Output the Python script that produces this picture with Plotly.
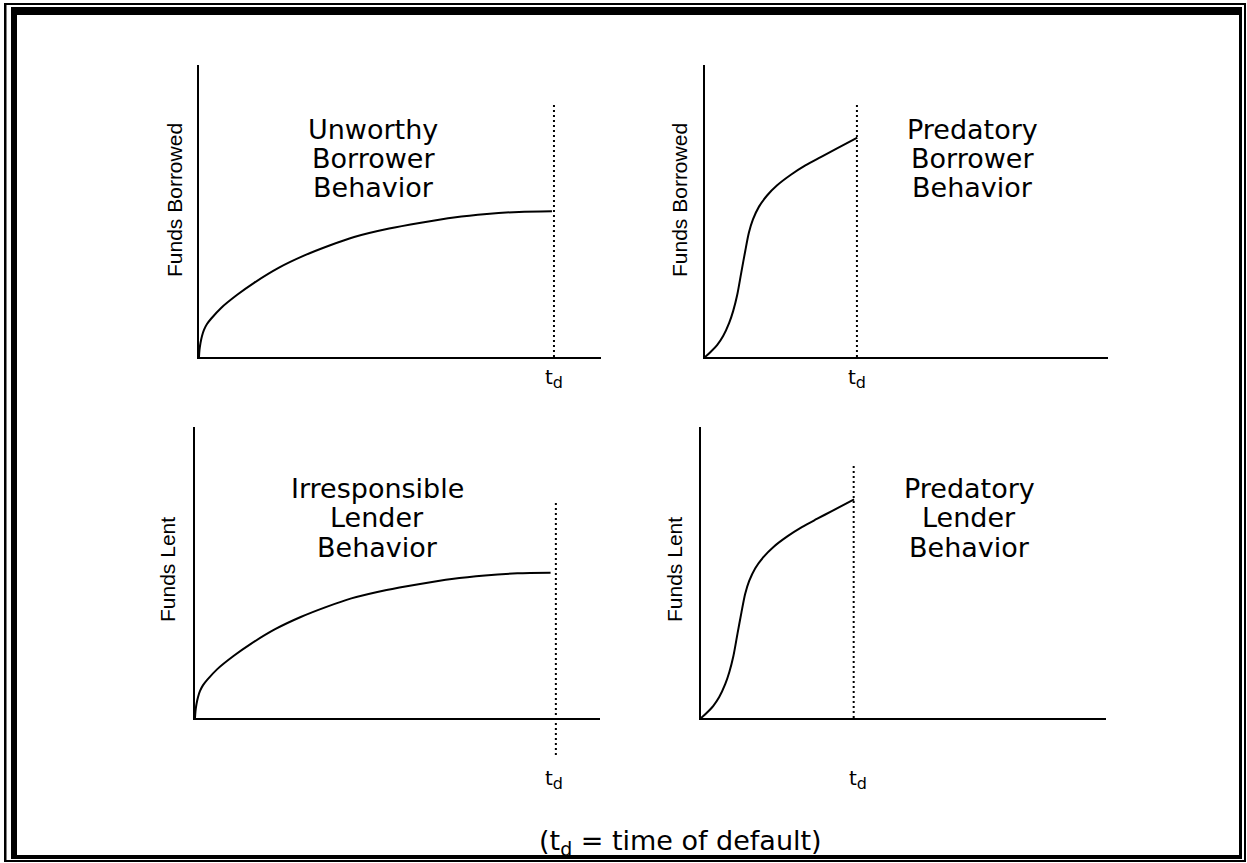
import plotly.graph_objects as go

# ---------------- data (arbitrary units: time axis 0..10, funds axis 0..10) ----------------
# concave "unworthy / irresponsible" growth path
unworthy_time = [0, 0.012, 0.037, 0.075, 0.124, 0.199, 0.30, 0.55, 0.95, 1.37, 1.99, 2.61, 3.23, 3.86,
                 4.73, 5.52, 6.34, 7.16, 7.96, 8.78]
unworthy_funds = [0, 0.24, 0.48, 0.72, 0.93, 1.13, 1.31, 1.68, 2.13, 2.54, 3.06, 3.47, 3.81, 4.11,
                  4.40, 4.60, 4.78, 4.90, 4.97, 4.99]
irresponsible_time = [0, 0.012, 0.037, 0.075, 0.124, 0.199, 0.30, 0.55, 0.95, 1.37, 1.99, 2.61, 3.23, 3.86,
                      4.73, 5.52, 6.34, 7.16, 7.96, 8.78]
irresponsible_funds = [0, 0.24, 0.48, 0.72, 0.93, 1.13, 1.31, 1.68, 2.13, 2.54, 3.06, 3.47, 3.81, 4.11,
                       4.40, 4.60, 4.78, 4.90, 4.97, 4.99]
# S-shaped "predatory" path
predatory_b_time = [0, 0.15, 0.30, 0.45, 0.60, 0.70, 0.80, 0.90, 1.00, 1.09, 1.19, 1.34, 1.54, 1.79,
                    2.14, 2.49, 2.86, 3.23, 3.78]
predatory_b_funds = [0, 0.19, 0.41, 0.72, 1.17, 1.58, 2.13, 2.89, 3.64, 4.26, 4.71, 5.15, 5.53, 5.88,
                     6.25, 6.56, 6.84, 7.11, 7.51]
predatory_l_time = [0, 0.15, 0.30, 0.45, 0.60, 0.70, 0.80, 0.90, 1.00, 1.09, 1.19, 1.34, 1.54, 1.79,
                    2.14, 2.49, 2.86, 3.23, 3.78]
predatory_l_funds = [0, 0.19, 0.41, 0.72, 1.17, 1.58, 2.13, 2.89, 3.64, 4.26, 4.71, 5.15, 5.53, 5.88,
                     6.25, 6.56, 6.84, 7.11, 7.51]

# time of default per panel and the extent of its dotted marker
t_default = [8.83, 3.77, 8.91, 3.77]
td_top = [8.73, 8.73, 7.39, 8.73]
td_bottom = [0, 0, -1.27, 0]

panel_titles = [
    ["Unworthy", "Borrower", "Behavior"],
    ["Predatory", "Borrower", "Behavior"],
    ["Irresponsible", "Lender", "Behavior"],
    ["Predatory", "Lender", "Behavior"],
]
y_labels = ["Funds Borrowed", "Funds Borrowed", "Funds Lent", "Funds Lent"]
td_label = "t<sub><span style='font-size:16px'>d</span></sub>"
caption = "(t<sub>d</sub> = time of default)"

X_MAX = 10
Y_MAX = 10

# ---------------- layout geometry (pixels) ----------------
W, H = 1247, 863
# (left, right, top, bottom) of each panel's axes
panel_px = [
    (199, 601, 65, 357),
    (705, 1108, 65, 357),
    (195, 600, 427, 718),
    (701, 1106, 427, 718),
]
title_px = [(373, [129, 158.5, 188]), (972, [129, 158.5, 188]),
            (377, [488, 517.5, 547]), (969, [488, 517.5, 547])]
ylab_px = [(175, 200), (680, 200), (167, 570), (674, 570)]
td_lab_px = [(554, 378), (857, 378), (554, 779), (858, 779)]

def px(x):
    return x / W

def py(y):
    return 1 - y / H

curves = [
    (unworthy_time, unworthy_funds),
    (predatory_b_time, predatory_b_funds),
    (irresponsible_time, irresponsible_funds),
    (predatory_l_time, predatory_l_funds),
]

fig = go.Figure()
shapes = []
annotations = []
TITLE_FONT = dict(family="DejaVu Sans, Liberation Sans, Arial", size=27, color="black")
YLAB_FONT = dict(family="Liberation Sans, Arial", size=21, color="black")
TD_FONT = dict(family="DejaVu Sans, Liberation Sans, Arial", size=20, color="black")

for i in range(4):
    n = i + 1
    xa = "x" if n == 1 else f"x{n}"
    ya = "y" if n == 1 else f"y{n}"
    l, r, t, b = panel_px[i]
    axis_common = dict(showline=True, linecolor="black", linewidth=2, showgrid=False,
                       zeroline=False, showticklabels=False, ticks="", fixedrange=True)
    fig.update_layout(**{
        ("xaxis" if n == 1 else f"xaxis{n}"): dict(domain=[px(l), px(r)], range=[0, X_MAX],
                                                  anchor=ya, **axis_common),
        ("yaxis" if n == 1 else f"yaxis{n}"): dict(domain=[py(b), py(t)], range=[0, Y_MAX],
                                                  anchor=xa, **axis_common),
    })
    cx, cy = curves[i]
    fig.add_trace(go.Scatter(x=cx, y=cy, mode="lines", xaxis=xa, yaxis=ya,
                             line=dict(color="black", width=2, shape="spline", smoothing=0.8),
                             hoverinfo="skip", showlegend=False))
    # dotted time-of-default marker
    shapes.append(dict(type="line", xref=xa, yref=f"{ya} domain",
                       x0=t_default[i], x1=t_default[i],
                       y0=td_bottom[i] / Y_MAX, y1=td_top[i] / Y_MAX,
                       line=dict(color="black", width=2, dash="2px,3px")))
    # titles, one annotation per line
    tx, tys = title_px[i]
    for line, ty in zip(panel_titles[i], tys):
        annotations.append(dict(text=line, xref="paper", yref="paper", x=px(tx), y=py(ty),
                                xanchor="center", yanchor="middle", showarrow=False, font=TITLE_FONT))
    lx, ly = ylab_px[i]
    annotations.append(dict(text=y_labels[i], xref="paper", yref="paper", x=px(lx), y=py(ly),
                            xanchor="center", yanchor="middle", textangle=-90, showarrow=False,
                            font=YLAB_FONT))
    dx, dy = td_lab_px[i]
    annotations.append(dict(text=td_label, xref="paper", yref="paper", x=px(dx), y=py(dy),
                            xanchor="center", yanchor="middle", showarrow=False, font=TD_FONT))

annotations.append(dict(text=caption, xref="paper", yref="paper", x=px(680), y=py(842),
                        xanchor="center", yanchor="middle", showarrow=False,
                        font=dict(family="DejaVu Sans, Liberation Sans, Arial", size=27, color="black")))

# double frame: thin outer rectangle + thick inner rectangle (heavier top/left)
def rect(x0, y0, x1, y1):
    return dict(type="rect", xref="paper", yref="paper", x0=px(x0), x1=px(x1), y0=py(y1), y1=py(y0),
                fillcolor="black", line=dict(width=0), layer="above")

frame = [
    # outer thin
    rect(4, 3, 1246, 5), rect(4, 3, 6.5, 862), rect(1244, 3, 1246, 862), rect(4, 860, 1246, 862),
    # inner thick
    rect(11, 7, 1242, 15), rect(11, 7, 17, 859), rect(1239, 7, 1242, 859), rect(11, 855, 1242, 859),
]
shapes.extend(frame)

fig.update_layout(
    width=W, height=H, margin=dict(l=0, r=0, t=0, b=0),
    paper_bgcolor="white", plot_bgcolor="white",
    shapes=shapes, annotations=annotations, showlegend=False,
)

fig.write_html("out.html", config={"displayModeBar": False},
               post_script="document.body.style.margin='0';document.body.style.overflow='hidden';")
